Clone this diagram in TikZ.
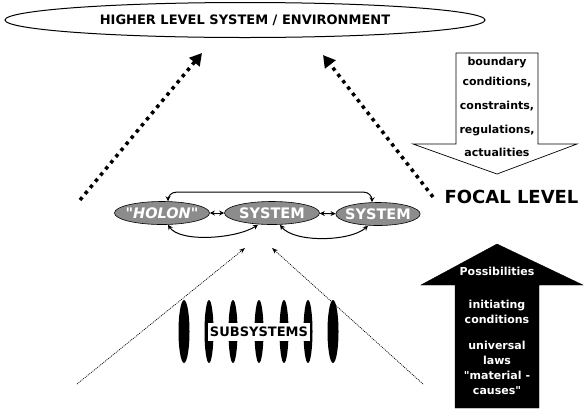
\documentclass[tikz,border=0pt]{standalone}
\usepackage{fontspec}
\setmainfont{DejaVu Sans}[Ligatures=TeXOff]
\usepackage{tikz}
\usetikzlibrary{positioning,arrows.meta,calc,shapes.geometric}

\definecolor{holongray}{RGB}{140,140,140}

\begin{document}
\begin{tikzpicture}[
  x=1pt, y=-1pt,
  every node/.style={font=\bfseries},
  env/.style={ellipse, draw, line width=1pt, minimum width=480pt, minimum height=35pt, font=\bfseries\fontsize{13}{15}\selectfont},
  holon/.style={ellipse, draw, line width=0.6pt, fill=holongray, text=white, minimum width=95pt, minimum height=23pt, inner sep=0pt, font=\bfseries\fontsize{14.5}{16}\selectfont},
  link/.style={{Stealth[length=5pt,width=5pt]}-{Stealth[length=5pt,width=5pt]}, line width=1pt},
  sub/.style={ellipse, fill=black, minimum height=63pt, inner sep=0pt},
  rise/.style={line width=3.5pt, dash pattern=on 3.5pt off 4.5pt, -{Triangle[length=12pt,width=13pt]}},
  cause/.style={line width=0.7pt, dash pattern=on 1pt off 1pt, -{Stealth[length=6pt,width=4.5pt]}},
]
  \useasboundingbox (0,0) rectangle (585,408);

  \node[env] (env) at (245,20) {HIGHER LEVEL SYSTEM / ENVIRONMENT};

  \node[holon, inner xsep=-5pt] (holon) at (162,213) {\itshape"HOLON"};
  \node[holon] (sys) at (272,213) {SYSTEM};
  \node[holon, minimum width=84pt, inner xsep=-3pt] (sysR) at (378,214) {SYSTEM};

  \draw[link] (holon) -- (sys);
  \draw[link] (sys) -- (sysR);
  \draw[link, rounded corners=8pt] ([xshift=6pt]holon.north) |- ($(sysR.north)+(-6,-10)$) -- ([xshift=-6pt]sysR.north);
  \draw[link] ([xshift=6pt]holon.south) .. controls +(12,18) and +(-22,14) .. ([xshift=-14pt]sys.south);
  \draw[link] ([xshift=8pt]sys.south) .. controls +(14,18) and +(-18,16) .. ([xshift=-10pt]sysR.south);

  \coordinate (riseL) at (80,200);
  \coordinate (topL) at (202,53);
  \coordinate (riseR) at (433,197);
  \coordinate (topR) at (323,55);
  \draw[rise] (riseL) -- (topL);
  \draw[rise] (riseR) -- (topR);

  \foreach \x/\w [count=\i] in {184/11,209/9,233/9,259/9,284/9,308/9,333/11}
    \node[sub, minimum width=\w pt] (sub\i) at (\x,331.5) {};
  \node[fill=white, inner xsep=2pt, inner ysep=4pt, font=\bfseries\fontsize{13}{15}\selectfont] (subs) at (259,332) {SUBSYSTEMS};

  \coordinate (baseL) at (77,384);
  \coordinate (tipL) at (245,248);
  \coordinate (baseR) at (423,384);
  \coordinate (tipR) at (272,248);
  \draw[cause] (baseL) -- (tipL);
  \draw[cause] (baseR) -- (tipR);

  \draw[line width=0.7pt, fill=white] (456,53) -- (538,53) -- (538,144) -- (577,144) -- (497,174) -- (413,144) -- (456,144) -- cycle;
  \node[align=center, font=\bfseries\fontsize{11}{20}\selectfont] (constr) at (497,107)
    {boundary\\conditions,\\[4pt]constraints,\\[4pt]regulations,\\[3pt]actualities};

  \node[anchor=west, font=\bfseries\fontsize{18}{20}\selectfont] (focal) at (441,197) {FOCAL LEVEL};

  \draw[fill=black] (497,244) -- (583,285) -- (539,285) -- (539,408) -- (455,408) -- (455,285) -- (421,285) -- cycle;
  \node[align=center, text=white, font=\bfseries\fontsize{11}{15}\selectfont] (poss) at (497,331)
    {Possibilities\\[18pt]initiating\\conditions\\[11pt]universal\\laws\\"material -\\causes"};
\end{tikzpicture}
\end{document}
